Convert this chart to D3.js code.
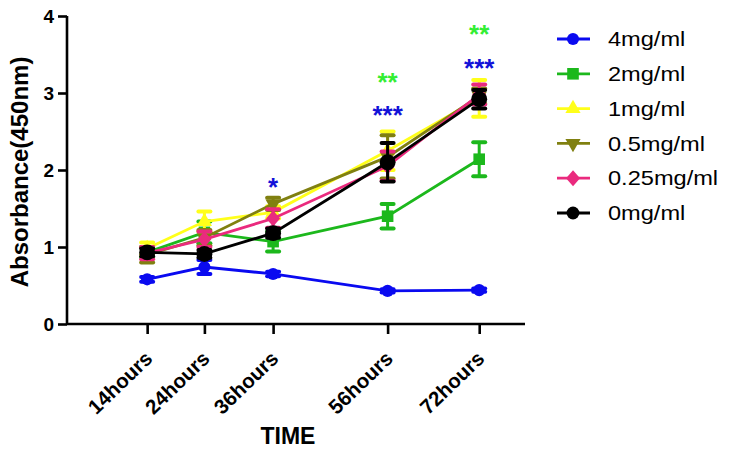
<!DOCTYPE html>
<html>
<head>
<meta charset="utf-8">
<script src="https://cdn.jsdelivr.net/npm/d3@7"></script>
<style>
  html, body { margin: 0; padding: 0; background: #fff; }
  svg { display: block; }
  text { font-family: Arial, "Liberation Sans", sans-serif; }
</style>
</head>
<body>
<svg id="chart" width="735" height="458"></svg>
<script>
// ---------- DATA ----------
const hours = [14, 24, 36, 56, 72];
const tickLabels = ["14hours", "24hours", "36hours", "56hours", "72hours"];
const seriesNames = ["4mg/ml", "2mg/ml", "1mg/ml", "0.5mg/ml", "0.25mg/ml", "0mg/ml"];
const vals4   = [0.58, 0.74, 0.65, 0.43, 0.44];
const vals2   = [0.93, 1.19, 1.07, 1.40, 2.14];
const vals1   = [0.98, 1.33, 1.45, 2.25, 2.93];
const vals05  = [0.90, 1.12, 1.56, 2.17, 2.96];
const vals025 = [0.92, 1.10, 1.37, 2.05, 2.98];
const vals0   = [0.93, 0.91, 1.18, 2.10, 2.92];
const err4    = [0.03, 0.09, 0.03, 0.02, 0.02];
const err2    = [0.07, 0.14, 0.13, 0.16, 0.22];
const err1    = [0.08, 0.13, 0.08, 0.25, 0.24];
const err05   = [0.10, 0.10, 0.08, 0.28, 0.10];
const err025  = [0.08, 0.10, 0.12, 0.19, 0.13];
const err0    = [0.05, 0.05, 0.06, 0.25, 0.12];
const yTicks = [0, 1, 2, 3, 4];
// significance annotations: text, hour, y value, series index (colour source)
const annotText   = ["*", "***", "**", "***", "**"];
const annotHour   = [36, 56, 56, 72, 72];
const annotValue  = [1.85, 2.79, 3.22, 3.40, 3.84];
const annotSeries = [0, 0, 1, 0, 1];

// ---------- STYLE ----------
const lineColors  = ["#0a0af0", "#1cb81c", "#ffff1a", "#808010", "#ea2a7e", "#000000"];
const annotColors = ["#1212d8", "#33ee33"];
const shapes = ["circle", "square", "triUp", "triDown", "diamond", "bigCircle"];

const seriesVals = [vals4, vals2, vals1, vals05, vals025, vals0];
const seriesErr  = [err4, err2, err1, err05, err025, err0];

const svg = d3.select("#chart");
const x = d3.scaleLinear().domain([0, 80]).range([67, 525]);
const y = d3.scaleLinear().domain([0, 4]).range([324, 16]);

function markerPath(shape) {
  switch (shape) {
    case "circle":   return d3.symbol(d3.symbolCircle, 115)();
    case "bigCircle":return d3.symbol(d3.symbolCircle, 200)();
    case "square":   return d3.symbol(d3.symbolSquare, 135)();
    case "triUp":    return d3.symbol(d3.symbolTriangle, 100)();
    case "triDown":  return d3.symbol(d3.symbolTriangle, 100)();
    case "diamond":  return "M0,-8L7,0L0,8L-7,0Z";
  }
}
function markerTransform(shape, px, py) {
  return shape === "triDown" ? `translate(${px},${py}) rotate(180)` : `translate(${px},${py})`;
}

// ---------- AXES ----------
const axisW = 2.6;
const yAxis = svg.append("g").attr("transform", `translate(${x(0)},0)`)
  .call(d3.axisLeft(y).tickValues(yTicks).tickSize(9).tickFormat(d3.format("d")));
const xAxis = svg.append("g").attr("transform", `translate(0,${y(0)})`)
  .call(d3.axisBottom(x).tickValues(hours).tickSize(10).tickFormat((d, i) => tickLabels[i]));
[yAxis, xAxis].forEach(g => {
  g.select(".domain").attr("stroke", "#000").attr("stroke-width", axisW)
    .attr("d", g === yAxis ? `M0,${y(4)}V${y(0)}` : `M${x(0)},0H${x(80)}`);
  g.selectAll(".tick line").attr("stroke", "#000").attr("stroke-width", axisW);
});
yAxis.selectAll(".tick text")
  .attr("x", -13).attr("dy", "0.36em")
  .style("font-size", "19px").style("font-weight", "bold").attr("fill", "#000");
xAxis.selectAll(".tick text")
  .attr("text-anchor", "end")
  .attr("y", 0).attr("dy", 0)
  .attr("transform", "translate(6,36) rotate(-44)")
  .style("font-size", "20.5px").style("font-weight", "bold").attr("fill", "#000");

svg.append("text")
  .attr("transform", `translate(28,172) rotate(-90)`)
  .attr("text-anchor", "middle")
  .style("font-size", "24px").style("font-weight", "bold")
  .text("Absorbance(450nm)");
svg.append("text")
  .attr("x", 288).attr("y", 444)
  .attr("text-anchor", "middle")
  .style("font-size", "23px").style("font-weight", "bold")
  .text("TIME");

// ---------- SERIES ----------
const line = d3.line().x((d, i) => x(hours[i])).y(d => y(d));
seriesVals.forEach((vals, s) => {
  const g = svg.append("g");
  const col = lineColors[s];
  g.append("path").datum(vals).attr("d", line)
    .attr("fill", "none").attr("stroke", col).attr("stroke-width", 2.8);
  vals.forEach((v, i) => {
    const e = seriesErr[s][i];
    const px = x(hours[i]);
    g.append("line").attr("x1", px).attr("x2", px)
      .attr("y1", y(v + e)).attr("y2", y(v - e))
      .attr("stroke", col).attr("stroke-width", 3);
    [v + e, v - e].forEach(c => {
      g.append("line").attr("x1", px - 6).attr("x2", px + 6)
        .attr("y1", y(c)).attr("y2", y(c))
        .attr("stroke", col).attr("stroke-width", 4).attr("stroke-linecap", "round");
    });
    g.append("path").attr("d", markerPath(shapes[s]))
      .attr("transform", markerTransform(shapes[s], px, y(v)))
      .attr("fill", col);
  });
});

// ---------- ANNOTATIONS ----------
annotText.forEach((t, i) => {
  svg.append("text")
    .attr("x", x(annotHour[i])).attr("y", y(annotValue[i]))
    .attr("dy", "0.56em")
    .attr("text-anchor", "middle")
    .style("font-size", "26px").style("font-weight", "bold")
    .attr("fill", annotColors[annotSeries[i]])
    .text(t);
});

// ---------- LEGEND ----------
const legend = svg.append("g");
seriesNames.forEach((name, s) => {
  const ly = 39 + s * 34.8;
  legend.append("line").attr("x1", 557).attr("x2", 590).attr("y1", ly).attr("y2", ly)
    .attr("stroke", lineColors[s]).attr("stroke-width", 2.8);
  legend.append("path").attr("d", markerPath(shapes[s]))
    .attr("transform", markerTransform(shapes[s], 573, ly) + (shapes[s] === "bigCircle" ? " scale(0.8)" : ""))
    .attr("fill", lineColors[s]);
  legend.append("text").attr("x", 608).attr("y", ly).attr("dy", "0.36em")
    .style("font-size", "20px")
    .attr("transform", `translate(608,0) scale(1.18,1) translate(-608,0)`)
    .attr("fill", "#000")
    .text(name);
});
</script>
</body>
</html>
